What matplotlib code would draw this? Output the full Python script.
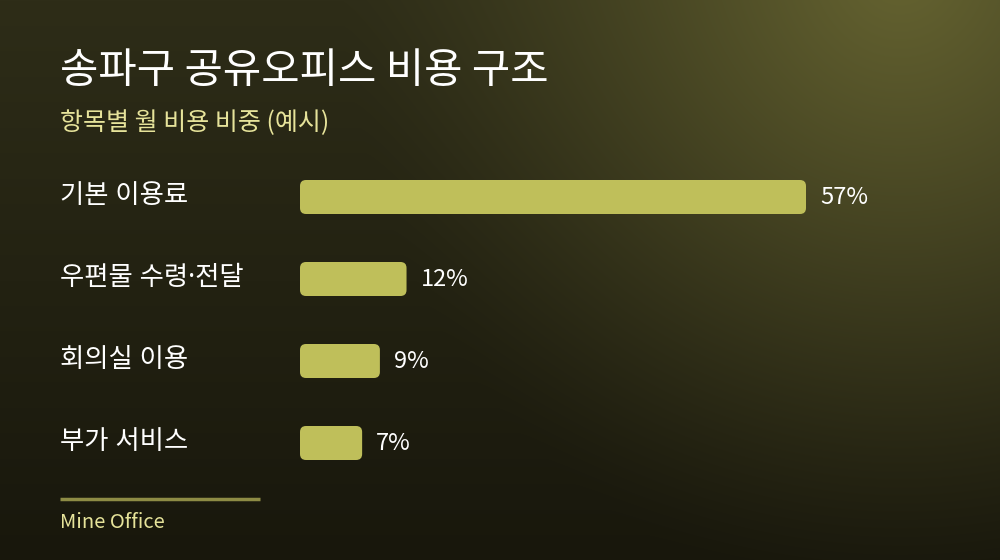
import numpy as np
import matplotlib.pyplot as plt
from matplotlib.patches import FancyBboxPatch
from matplotlib.colors import to_rgb

plt.rcParams['font.family'] = ['Noto Sans CJK KR', 'DejaVu Sans']

title = '송파구 공유오피스 비용 구조'
subtitle = '항목별 월 비용 비중 (예시)'
categories = ['기본 이용료', '우편물 수령·전달', '회의실 이용', '부가 서비스']
shares = [57, 12, 9, 7]
source = 'Mine Office'

W, H = 1000, 560
fig = plt.figure(figsize=(10, 5.6), dpi=100)

# background: dark vertical gradient with an olive glow in the top-right
bg = fig.add_axes([0, 0, 1, 1])
yy, xx = np.mgrid[0:H, 0:W]
top, bottom = np.array(to_rgb('#2e2d18')), np.array(to_rgb('#18170c'))
t = (yy / H)[..., None]
img = top * (1 - t) + bottom * t
glow = np.array(to_rgb('#666431'))
d = np.sqrt(((xx - 900) / 1.0) ** 2 + ((yy + 40) / 1.15) ** 2)
w = np.clip(1 - d / 560, 0, 1) ** 1.3
img = img * (1 - w[..., None]) + glow * w[..., None]
bg.imshow(img, extent=[0, W, H, 0], aspect='auto')
bg.set_xlim(0, W)
bg.set_ylim(H, 0)
bg.axis('off')

bg.text(60, 72, title, color='white', fontsize=30, fontweight='medium', va='center', ha='left')
bg.text(60, 123, subtitle, color='#e6e39a', fontsize=18, va='center', ha='left')
bg.plot([60, 260], [499, 499], color='#8e8c45', lw=2.5, solid_capstyle='butt')
bg.text(60, 522, source, color='#e6e39a', fontsize=14.5, va='center', ha='left')

# bars axes: x from 300px, 57% ends at ~806px
px_per_unit = 506 / 57
ax_left, ax_w = 300, 600
ax_top, ax_bot = 156, 484
ax = fig.add_axes([ax_left / W, 1 - ax_bot / H, ax_w / W, (ax_bot - ax_top) / H])
ax.set_xlim(0, ax_w / px_per_unit)
ax.set_ylim(len(categories) - 0.5, -0.5)
ax.axis('off')
ax.patch.set_alpha(0)

bar_h = 34 / 82
ypos = np.arange(len(categories))
bars = ax.barh(ypos, shares, height=bar_h, color='none')
rx = 6 / px_per_unit
ry = 6 / 82
for b in bars:
    x0, y0 = b.get_x(), b.get_y()
    bw, bh = b.get_width(), b.get_height()
    p = FancyBboxPatch((x0, y0), bw, bh,
                       boxstyle=f'round,pad=0,rounding_size={rx}',
                       mutation_aspect=ry / rx,
                       facecolor='#bfbf5a', edgecolor='none')
    ax.add_patch(p)
    b.remove()

for i, (cat, v) in enumerate(zip(categories, shares)):
    ax.text(v + 14 / px_per_unit, i, f'{v}%', color='white', fontsize=17,
            va='center', ha='left')
    bg.text(60, ax_top + 41 + 82 * i - 1, cat, color='white', fontsize=19,
            va='center', ha='left', family=['Noto Sans', 'Noto Sans CJK KR'])

fig.savefig('out.png', dpi=100)
